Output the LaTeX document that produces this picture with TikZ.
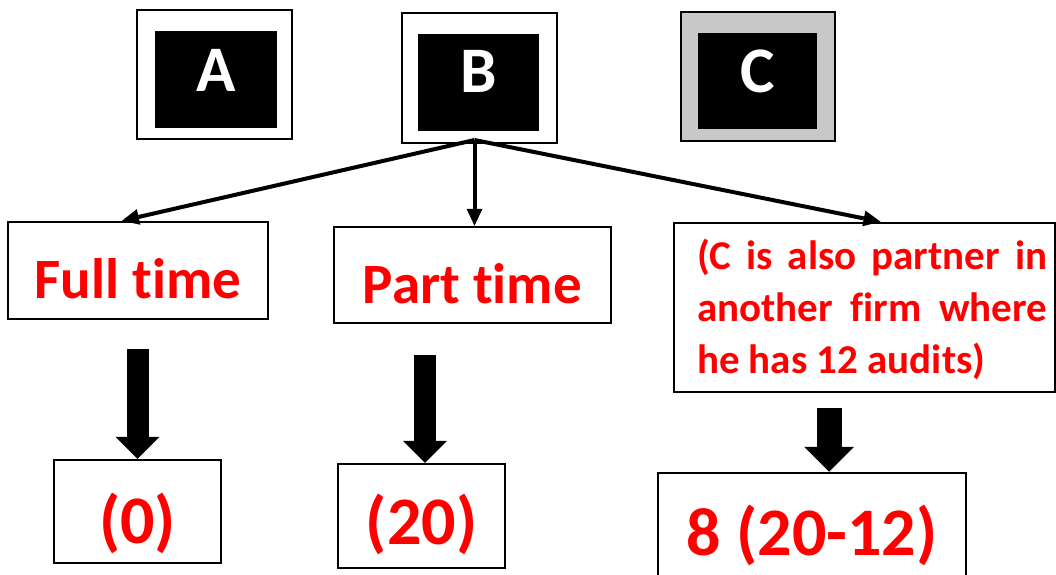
\documentclass[tikz,border=0pt]{standalone}
\usepackage{fontspec}
\setmainfont{Carlito}[Ligatures={NoCommon}]
\usetikzlibrary{arrows.meta}
\definecolor{txtred}{RGB}{255,0,0}
\definecolor{framegrey}{RGB}{200,200,200}
\begin{document}
\begin{tikzpicture}[x=1pt,y=-1pt,
  letterframe/.style={draw=black, line width=2pt, fill=white, inner sep=0pt},
  letterbox/.style={fill=black, inner sep=0pt},
  letter/.style={text=white, anchor=base, inner sep=0pt,
    font=\bfseries\fontsize{65}{65}\selectfont},
  redbox/.style={draw=black, line width=2.5pt, fill=white, inner sep=0pt,
    text=txtred, text depth=0pt},
  midfont/.style={font=\bfseries\fontsize{57}{60}\selectfont},
  bigfont/.style={font=\bfseries\fontsize{68}{70}\selectfont},
  link/.style={line width=4pt, line join=round,
    -{Triangle[width=16pt,length=17pt,line width=0pt]}},
  blockarrow/.style={line width=22pt,
    -{Triangle[width=44pt,length=22pt,line width=0pt]}},
  bigblockarrow/.style={line width=25pt,
    -{Triangle[width=50pt,length=25pt,line width=0pt]}}]

\useasboundingbox (0,0) rectangle (1056,574);
\fill[white] (0,0) rectangle (1056,574);
\clip (0,0) rectangle (1056,574);

% partners
\node[letterframe, minimum width=155pt, minimum height=129pt] (Aframe) at (214.5,74.5) {};
\node[letterbox, minimum width=122pt, minimum height=97pt] (Abox) at (216,79.5) {};
\node[letter] (A) at (216,91) {A};

\node[letterframe, minimum width=155pt, minimum height=130pt] (Bframe) at (479.5,78) {};
\node[letterbox, minimum width=121pt, minimum height=97pt] (Bbox) at (478.5,82.5) {};
\node[letter] (B) at (479,92) {B};

\node[letterframe, fill=framegrey, minimum width=154pt, minimum height=129pt] (Cframe) at (758,76.5) {};
\node[letterbox, minimum width=119pt, minimum height=96pt] (Cbox) at (757.5,81) {};
\node[letter] (C) at (758,92) {C};

% categories
\node[redbox, midfont, minimum width=260pt, minimum height=97pt, text height=55pt] (ft) at (138,270.5) {Full time};
\node[redbox, midfont, minimum width=277pt, minimum height=96pt, text height=56pt] (pt) at (472.5,275) {Part time};
\node[draw=black, line width=2.5pt, fill=white, minimum width=381pt, minimum height=169pt, inner sep=0pt] (note) at (864.5,307.5) {};
\node[text=txtred, text width=350pt, align=justify, inner sep=0pt,
      font=\bfseries\fontsize{41}{52}\selectfont] (notetext) at (872,309)
  {(C is also partner in\linebreak another firm where\linebreak he has 12 audits)};

% audit limits
\node[redbox, bigfont, minimum width=167pt, minimum height=103pt, text height=63pt] (zero) at (137.5,511.5) {(0)};
\node[redbox, bigfont, minimum width=167pt, minimum height=104pt, text height=56pt] (twenty) at (421.5,516) {(20)};
\node[redbox, bigfont, minimum width=308pt, minimum height=104pt, text height=60pt] (eight) at (812,525) {8 (20-12)};

% links from B
\coordinate (fork) at ([xshift=-5pt,yshift=4pt]Bframe.south);
\draw[link] (fork) -- ([xshift=-16pt]ft.north);
\draw[link] (fork) -- (fork |- pt.north);
\draw[link] (fork) -- ([xshift=16pt]note.north);

% block arrows
\draw[blockarrow, shorten <=29pt] (zero.north |- ft.south) -- (zero.north);
\draw[blockarrow, shorten <=31pt] ([xshift=3.5pt]twenty.north |- pt.south) -- ([xshift=3.5pt]twenty.north);
\draw[bigblockarrow, shorten <=15pt] ([xshift=17pt]eight.north |- note.south) -- ([xshift=17pt]eight.north);
\end{tikzpicture}
\end{document}
